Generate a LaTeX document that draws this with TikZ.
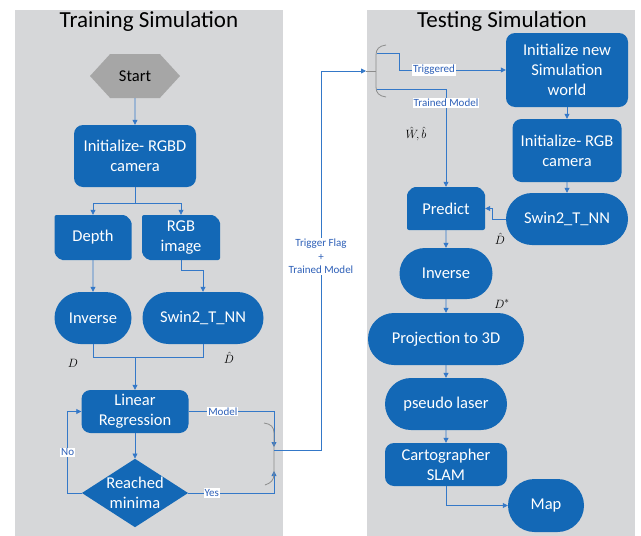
\documentclass[tikz,border=0pt]{standalone}
\usepackage{tikz}
\usepackage{amsmath}
\usepackage{xcolor}
\usepackage{fontspec}
\setmainfont{Carlito}
\usetikzlibrary{arrows.meta, calc, positioning, shapes.geometric, shapes.misc, shapes.symbols}
\definecolor{panelgray}{RGB}{214,215,217}
\definecolor{startgray}{RGB}{166,166,166}
\definecolor{boxblue}{RGB}{19,104,182}
\definecolor{lineblue}{RGB}{52,120,200}
\definecolor{textblue}{RGB}{46,96,184}
\definecolor{bracegray}{RGB}{140,140,140}

\begin{document}
\begin{tikzpicture}[x=1pt, y=-1pt,
    boxtxt/.style={text=white, align=center, inner sep=0pt, font=\fontsize{16.5}{20}\selectfont},
    flowbox/.style={boxtxt, fill=boxblue, rectangle, rounded corners=9pt},
    pillbox/.style={boxtxt, fill=boxblue, rounded rectangle},
    snipbox/.style={boxtxt, fill=boxblue, chamfered rectangle, chamfered rectangle xsep=3pt, chamfered rectangle ysep=3pt, rounded corners=2pt},
    decisionbox/.style={boxtxt, fill=boxblue, diamond, aspect=1.55},
    startbox/.style={signal, signal to=west and east, signal pointer angle=95, fill=startgray, inner sep=0pt, font=\fontsize{16.5}{20}\selectfont},
    titletxt/.style={font=\fontsize{23}{27}\selectfont, inner sep=0pt},
    lbl/.style={fill=white, text=textblue, inner sep=1pt, font=\fontsize{11}{13.5}\selectfont, align=center},
    mathlbl/.style={inner sep=0pt, font=\fontsize{13}{15}\selectfont},
    arr/.style={draw=lineblue, line width=0.8pt, -{Triangle[length=5pt,width=5pt]}},
    conn/.style={draw=lineblue, line width=0.8pt},
    brace/.style={draw=bracegray, line width=0.8pt}]

    % Page and panels
    \useasboundingbox (0,0) rectangle (641,536);
    \fill[white] (0,0) rectangle (641,536);
    \fill[panelgray] (15,10) rectangle (283,536);
    \fill[panelgray] (367,10) rectangle (635,536);

    % Titles
    \node[titletxt] (trainttl) at (149,21) {Training Simulation};
    \node[titletxt] (testttl) at (502,21) {Testing Simulation};

    % Training side
    \node[startbox, minimum width=90pt, minimum height=44pt] (start) at (135,76) {Start};
    \node[flowbox, minimum width=122pt, minimum height=62pt] (rgbd) at (135,156) {Initialize- RGBD\\camera};
    \node[snipbox, chamfered rectangle corners={north east, south west}, minimum width=77pt, minimum height=45pt] (depth) at (93,237.5) {Depth};
    \node[snipbox, chamfered rectangle corners={north east, south west}, minimum width=78pt, minimum height=45pt] (rgbimg) at (181,237.5) {RGB\\image};
    \node[pillbox, minimum width=77pt, minimum height=52pt] (invL) at (93,318) {Inverse};
    \node[pillbox, minimum width=121pt, minimum height=52pt] (swinL) at (203,318) {Swin2\_T\_NN};
    \node[flowbox, minimum width=107pt, minimum height=43pt] (linreg) at (135,411.5) {Linear\\Regression};
    \node[decisionbox] (minima) at (135,493) {Reached\\minima};

    \draw[arr] (start) -- (rgbd);
    \draw[arr] (rgbd.south) -- ++(0,16) -| (depth);
    \draw[arr] (rgbd.south) -- ++(0,16) -| (rgbimg);
    \draw[arr] (depth) -- (invL);
    \draw[arr] (rgbimg.south) -- ++(0,10) -| (swinL);

    % Merge of D and D hat
    \coordinate (merge) at (135,357);
    \draw[conn] (invL.south) -- ++(0,13) -| (swinL.south);
    \draw[arr] (merge) -- (linreg);
    \node[mathlbl] (dlbl) at (73,363) {$D$};
    \node[mathlbl] (dhatL) at (229,358) {$\hat{D}$};

    % Regression loop
    \coordinate (jtop) at (274,447);
    \coordinate (junc) at (274,450);
    \coordinate (jbot) at (274,471);
    \draw[arr] (linreg) -- (minima);
    \draw[arr] (minima.west) -- ++(-14,0) |- (linreg.west) node[lbl, pos=0.25] {No};
    \draw[arr] (linreg.east) -| (jtop) node[lbl, pos=0.2] {Model};
    \draw[arr] (minima.east) -| (jbot) node[lbl, pos=0.137] {Yes};
    \draw[brace] (264,423) .. controls (271,424) and (274,427) .. (274,433) -- (274,474)
        .. controls (274,480) and (271,483) .. (265,485);

    % Hand-over to testing
    \coordinate (rbrack) at (366,71);
    \coordinate (trig) at (377,53);
    \coordinate (trained) at (377,89);
    \draw[arr] (junc) -- (321,450) |- (rbrack)
        node[lbl, pos=0.255] {Trigger Flag\\+\\Trained Model};
    \draw[brace] (366,71) -- (376,71);
    \draw[brace] (386,45) .. controls (379,46) and (376,49) .. (376,55) -- (376,87)
        .. controls (376,93) and (379,96) .. (386,97);

    % Testing side
    \node[flowbox, minimum width=122pt, minimum height=74pt] (initw) at (567,70) {Initialize new\\Simulation\\world};
    \node[flowbox, minimum width=109pt, minimum height=63pt] (rgbR) at (567,150.5) {Initialize- RGB\\camera};
    \node[pillbox, minimum width=122pt, minimum height=52pt] (swinR) at (567,219) {Swin2\_T\_NN};
    \node[snipbox, chamfered rectangle corners={north west, north east}, minimum width=78pt, minimum height=43pt] (predict) at (446,208.5) {Predict};
    \node[pillbox, minimum width=93pt, minimum height=51pt] (invR) at (446,273.5) {Inverse};
    \node[pillbox, minimum width=156pt, minimum height=52pt] (proj) at (446,339) {Projection to 3D};
    \node[pillbox, minimum width=122pt, minimum height=52pt] (laser) at (446,404) {pseudo laser};
    \node[flowbox, minimum width=122pt, minimum height=43pt] (carto) at (446,464.5) {Cartographer\\SLAM};
    \node[pillbox, minimum width=76pt, minimum height=53pt] (map) at (546,505.5) {Map};

    \draw[arr] (trig) -- ++(22,0) |- (initw) node[lbl, pos=0.664] {Triggered};
    \draw[arr] (trained) -| (predict) node[lbl, pos=0.571] {Trained Model};
    \node[mathlbl] (wb) at (416,134) {$\hat{W}\!,\hat{b}$};

    \draw[arr] (initw) -- (rgbR);
    \draw[arr] (rgbR) -- (swinR);
    \draw[arr] (swinR.west) -- ++(-13,0) |- (predict);
    \node[mathlbl] (dhatR) at (500,239) {$\hat{D}$};
    \draw[arr] (predict) -- (invR);
    \draw[arr] (invR) -- (proj);
    \node[mathlbl] (dstar) at (502,304) {$D^{*}$};
    \draw[arr] (proj) -- (laser);
    \draw[arr] (laser) -- (carto);
    \draw[arr] (carto) |- (map);

\end{tikzpicture}
\end{document}
